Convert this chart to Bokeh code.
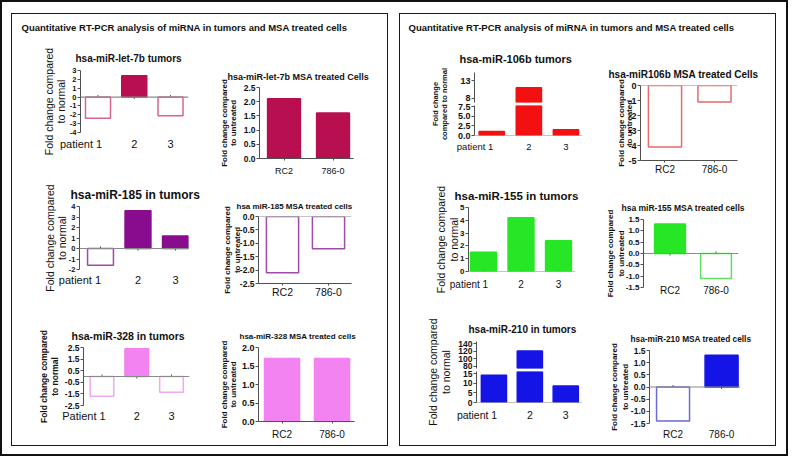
import numpy as np
from bokeh.plotting import figure
from bokeh.layouts import row, column
from bokeh.models import (Range1d, FixedTicker, Span, PrintfTickFormatter,
                          ColumnDataSource, CDSView, BooleanFilter)
from bokeh.embed import file_html
from bokeh.resources import INLINE

FONT = "Liberation Sans"
AXIS = "#505050"
ZERO = "#8a8a8a"
INK = "#111111"

# ---------------- data ----------------
panel_title = "Quantitative  RT-PCR analysis of miRNA in tumors and MSA treated cells"
tumor_cats = ["1", "2", "3"]
cell_cats = ["RC2", "786-0"]

let7b_tumor = [-2.4, 2.4, -2.1]
let7b_cells = [2.1, 1.6]
mir185_tumor = [-1.6, 3.6, 1.2]
mir185_cells = [-2.1, -1.2]
mir328_tumor = [-1.7, 2.4, -1.35]
mir328_cells = [1.7, 1.7]
mir106b_tumor = [1.05, 11.0, 1.5]
mir106b_cells = [-4.1, -1.1]
mir155_tumor = [1.5, 4.2, 2.4]
mir155_cells = [1.3, -1.1]
mir210_tumor = [14.0, 121.0, 8.5]
mir210_cells = [-1.4, 1.3]

let7b_tumor_ticks = [-4, -3, -2, -1, 0, 1, 2, 3]
let7b_cells_ticks = [0.0, 0.5, 1.0, 1.5, 2.0, 2.5]
mir185_tumor_ticks = [-2, -1, 0, 1, 2, 3, 4]
mir185_cells_ticks = [-2.5, -2.0, -1.5, -1.0, -0.5, 0.0]
mir328_tumor_ticks = [-2.5, -1.5, -0.5, 0.5, 1.5, 2.5]
mir328_cells_ticks = [0.0, 0.5, 1.0, 1.5, 2.0]
mir106b_ticks_low = [0.0, 2.5, 5.0, 7.5]
mir106b_ticks_high = [8, 13]
mir106b_cells_ticks = [-5, -4, -3, -2, -1, 0]
mir155_tumor_ticks = [0, 1, 2, 3, 4, 5]
mir155_cells_ticks = [-1.5, -1.0, -0.5, 0.0, 0.5, 1.0, 1.5]
mir210_ticks_low = [0, 5, 10, 15]
mir210_ticks_high = [80, 100, 120, 140]
mir210_cells_ticks = [-1.5, -1.0, -0.5, 0.0, 0.5, 1.0, 1.5]

C_LET7B, O_LET7B = "#B80F50", "#D8648E"
C_185, O_185 = "#890C8E", "#A04AAA"
C_328, O_328 = "#F283F0", "#F2A8F0"
C_106B, O_106B = "#F21010", "#E56A6A"
C_155, O_155 = "#26E626", "#60E060"
C_210, O_210 = "#1414E6", "#6A6AD6"

LBL_T = "Fold change compared\nto normal"
LBL_C = "Fold change compared\nto untreated"


# ---------------- helpers ----------------
def new_fig(box, frame, xr, yr, show_x=True):
    bx0, by0, bx1, by1 = box
    fx0, fy0, fx1, fy1 = frame
    p = figure(width=bx1 - bx0, height=by1 - by0,
               x_range=Range1d(*xr), y_range=Range1d(*yr),
               output_backend="svg", toolbar_location=None,
               x_axis_location="below" if show_x else None,
               min_border_left=int(round(fx0 - bx0)), min_border_right=int(round(bx1 - fx1)),
               min_border_top=int(round(fy0 - by0)), min_border_bottom=int(round(by1 - fy1)))
    p.title_location = None
    p.outline_line_color = None
    p.xgrid.visible = False
    p.ygrid.visible = False
    p.background_fill_color = "white"
    p.border_fill_color = "white"
    return p


def set_title(p, text, size, offset, standoff):
    p.title_location = "above"
    p.title.text = text
    p.title.text_font = FONT
    p.title.text_font_size = size
    p.title.text_font_style = "bold"
    p.title.text_color = INK
    p.title.align = "left"
    p.title.offset = offset
    p.title.standoff = standoff


def style_y(p, ticks, fmt, tick_size, label=None, lsize=None, lstyle=None, lh=None, lstandoff=None):
    ax = p.yaxis[0]
    ax.ticker = FixedTicker(ticks=ticks)
    ax.formatter = PrintfTickFormatter(format=fmt)
    ax.axis_line_color = AXIS
    ax.major_tick_line_color = AXIS
    ax.minor_tick_line_color = None
    ax.major_tick_out = 3
    ax.major_tick_in = 0
    ax.major_label_text_font = FONT
    ax.major_label_text_font_size = tick_size
    ax.major_label_text_font_style = "bold"
    ax.major_label_text_color = INK
    ax.major_label_standoff = 1
    if label:
        ax.axis_label = label
        ax.axis_label_text_font = FONT
        ax.axis_label_text_font_size = lsize
        ax.axis_label_text_font_style = lstyle
        ax.axis_label_text_color = INK
        ax.axis_label_text_line_height = lh
        ax.axis_label_standoff = lstandoff


def style_x(p, cats, size, standoff, line, first_pos=None, prefix=None):
    ax = p.xaxis[0]
    pos = list(range(1, len(cats) + 1))
    labels = list(cats)
    if first_pos is not None:
        pos[0] = first_pos
        labels[0] = prefix + " " + cats[0]
    ax.ticker = FixedTicker(ticks=pos)
    ax.major_label_overrides = {x: s for x, s in zip(pos, labels)}
    ax.minor_tick_line_color = None
    ax.major_label_text_font = FONT
    ax.major_label_text_font_size = size
    ax.major_label_text_font_style = "normal"
    ax.major_label_text_color = INK
    ax.major_label_standoff = standoff
    ax.major_tick_in = 0
    if line:
        ax.axis_line_color = AXIS
        ax.major_tick_line_color = AXIS
        ax.major_tick_out = 2
    else:
        ax.axis_line_color = None
        ax.major_tick_line_color = None
        ax.major_tick_out = 0


def add_bars(p, vals, color, outline, width, above=None):
    xs = list(range(1, len(vals) + 1))
    src = ColumnDataSource(dict(
        x=xs, top=vals,
        fill=[color if v > 0 else "white" for v in vals],
        line=[color if v > 0 else outline for v in vals]))
    mask = [True] * len(vals) if above is None else [v > above for v in vals]
    p.vbar(x="x", top="top", bottom=0, width=width, fill_color="fill",
           line_color="line", line_width=1.5, source=src,
           view=CDSView(filter=BooleanFilter(mask)))


def add_zero(p, n, ticks=True):
    p.add_layout(Span(location=0, dimension="width", line_color=ZERO, line_width=1.2))
    if ticks:
        xs = list(range(1, n + 1))
        p.scatter(x=xs, y=[0] * n, marker="dash", angle=np.pi / 2, size=4,
                  line_color=AXIS, line_width=1)


def title_fig(width, left, text):
    p = figure(width=width, height=22, output_backend="svg", toolbar_location=None,
               x_axis_location=None, y_axis_location=None,
               min_border_left=left, min_border_right=0, min_border_top=19, min_border_bottom=0)
    p.outline_line_color = None
    p.grid.visible = False
    set_title(p, text, "9.5px", 0, 2)
    return p


def label_fig(box, frame, text, size, style, lh, standoff):
    p = new_fig(box, frame, (0, 1), (0, 1), show_x=False)
    ax = p.yaxis[0]
    ax.ticker = FixedTicker(ticks=[])
    ax.axis_line_color = None
    ax.major_tick_line_color = None
    ax.minor_tick_line_color = None
    ax.major_tick_out = 0
    ax.major_label_standoff = 0
    ax.axis_label = text
    ax.axis_label_text_font = FONT
    ax.axis_label_text_font_size = size
    ax.axis_label_text_font_style = style
    ax.axis_label_text_color = INK
    ax.axis_label_text_line_height = lh
    ax.axis_label_standoff = standoff
    return p


def solo(p):
    return column(p)


# ---------------- left panel ----------------
TL = title_fig(374, 9, panel_title)

A1 = new_fig((16, 38, 206, 180), (84, 71.7, 192, 134), (0.517, 3.496), (-4, 3))
set_title(A1, "hsa-miR-let-7b tumors", "10px", -5, 13)
style_y(A1, let7b_tumor_ticks, "%d", "7.5px", LBL_T, "10.5px", "normal", 1.0, 0)
style_x(A1, tumor_cats, "11px", 5, False, 0.531, "patient")
add_zero(A1, 3)
add_bars(A1, let7b_tumor, C_LET7B, O_LET7B, 0.69)

B1 = new_fig((206, 38, 390, 180), (263, 89, 357, 162.5), (0.5, 2.418), (0, 2.5))
set_title(B1, "hsa-miR-let-7b  MSA treated Cells", "9px", -32, 12)
style_y(B1, let7b_cells_ticks, "%.1f", "8.5px", LBL_C, "8px", "bold", 0.95, 3)
style_x(B1, cell_cats, "9px", 5, True)
add_bars(B1, let7b_cells, C_LET7B, O_LET7B, 0.67)

A2 = new_fig((16, 180, 206, 302), (83, 208.3, 192, 271), (0.44, 3.347), (-2, 4))
set_title(A2, "hsa-miR-185  in tumors", "12px", -9, 10)
style_y(A2, mir185_tumor_ticks, "%d", "7.5px", LBL_T, "10.5px", "normal", 1.0, -2)
style_x(A2, tumor_cats, "11px", 4, False, 0.452, "patient")
add_zero(A2, 3)
add_bars(A2, mir185_tumor, C_185, O_185, 0.69)

B2 = new_fig((206, 180, 390, 302), (262, 218.3, 355, 287.7), (0.478, 2.5), (-2.5, 0))
set_title(B2, "hsa miR-185 MSA treated cells", "8px", -22, 12)
style_y(B2, mir185_cells_ticks, "%.1f", "8.5px", LBL_C, "8px", "bold", 1.1, -5)
style_x(B2, cell_cats, "10.5px", 0, True)
add_zero(B2, 2)
add_bars(B2, mir185_cells, C_185, O_185, 0.70)

A3 = new_fig((16, 302, 206, 446), (87, 349, 193, 407.3), (0.468, 3.518), (-2.5, 2.5))
set_title(A3, "hsa-miR-328 in tumors", "10.5px", -12, 12)
style_y(A3, mir328_tumor_ticks, "%.1f", "8.5px", LBL_T, "8.5px", "bold", 1.05, 2)
style_x(A3, tumor_cats, "11px", 4, False, 0.482, "Patient")
add_zero(A3, 3)
add_bars(A3, mir328_tumor, C_328, O_328, 0.68)

B3 = new_fig((206, 302, 390, 446), (262, 349.3, 358, 423.3), (0.53, 2.45), (0, 2.0))
set_title(B3, "hsa-miR-328 MSA treated cells", "8px", -19, 13)
style_y(B3, mir328_cells_ticks, "%.1f", "9px", LBL_C, "8px", "bold", 0.95, 1)
style_x(B3, cell_cats, "10px", 5, True)
add_bars(B3, mir328_cells, C_328, O_328, 0.70)

# ---------------- right panel ----------------
TR = title_fig(374, 8, panel_title)

L7 = label_fig((405, 38, 458, 180), (457, 74.3, 458, 136.7),
               "Fold change\ncompared to normal", "7.5px", "bold", 0.9, 4)
U7 = new_fig((458, 38, 598, 105), (479.3, 74.3, 587, 104.3), (0.535, 3.446), (6.8, 15.3), show_x=False)
set_title(U7, "hsa-miR-106b tumors", "11px", -15, 16)
style_y(U7, mir106b_ticks_high, "%d", "9px")
add_bars(U7, mir106b_tumor, C_106B, O_106B, 0.68, above=U7.y_range.start)
D7 = new_fig((458, 105, 598, 180), (479.3, 106.7, 587, 136.7), (0.535, 3.446), (0, 7.75))
style_y(D7, mir106b_ticks_low, "%.1f", "9px")
style_x(D7, tumor_cats, "9.5px", 5, False, 0.55, "patient")
add_zero(D7, 3)
add_bars(D7, mir106b_tumor, C_106B, O_106B, 0.68)

B7 = new_fig((598, 38, 779, 180), (645, 87.3, 742, 161.7), (0.505, 2.465), (-5, 0))
set_title(B7, "hsa-miR106b  MSA treated Cells", "10px", -32, 11)
style_y(B7, mir106b_cells_ticks, "%d", "9px", LBL_C, "8px", "bold", 0.9, -9)
style_x(B7, cell_cats, "10px", 1, True)
add_zero(B7, 2)
add_bars(B7, mir106b_cells, C_106B, O_106B, 0.67)

A8 = new_fig((405, 180, 598, 302), (473, 209, 580, 272.7), (0.6, 3.453), (0, 5))
set_title(A8, "hsa-miR-155  in tumors", "11.5px", -14, 12)
style_y(A8, mir155_tumor_ticks, "%d", "8px", LBL_T, "10.5px", "normal", 1.05, -3)
style_x(A8, tumor_cats, "10px", 7, False, 0.612, "patient")
add_zero(A8, 3)
add_bars(A8, mir155_tumor, C_155, O_155, 0.69)

B8 = new_fig((598, 180, 779, 302), (648, 221, 743, 289.3), (0.424, 2.489), (-1.5, 1.5))
set_title(B8, "hsa miR-155 MSA treated cells", "8.5px", -22, 14)
style_y(B8, mir155_cells_ticks, "%.1f", "8px", LBL_C, "8px", "bold", 1.2, -3)
style_x(B8, cell_cats, "10px", -3, False)
add_zero(B8, 2)
add_bars(B8, mir155_cells, C_155, O_155, 0.67)

L9 = label_fig((405, 302, 460, 446), (455, 342.7, 456, 404),
               LBL_T, "10.5px", "normal", 1.05, -1)
U9 = new_fig((460, 302, 598, 372), (479.3, 342.7, 587, 370), (0.515, 3.466), (74, 146), show_x=False)
set_title(U9, "hsa-miR-210 in tumors", "10px", -8, 14)
style_y(U9, mir210_ticks_high, "%d", "8.5px")
add_bars(U9, mir210_tumor, C_210, O_210, 0.70, above=U9.y_range.start)
D9 = new_fig((460, 372, 598, 446), (479.3, 373.3, 587, 404), (0.515, 3.466), (0, 15.9))
style_y(D9, mir210_ticks_low, "%d", "8.5px")
style_x(D9, tumor_cats, "10.5px", 6, False, 0.53, "patient")
add_zero(D9, 3)
add_bars(D9, mir210_tumor, C_210, O_210, 0.70)

B9 = new_fig((598, 302, 779, 446), (654, 351.7, 745, 425), (0.515, 2.39), (-1.5, 1.5))
set_title(B9, "hsa-miR-210 MSA treated cells", "8.3px", -19, 13)
style_y(B9, mir210_cells_ticks, "%.1f", "8.5px", LBL_C, "8px", "bold", 1.2, -2)
style_x(B9, cell_cats, "10px", 5, False)
add_zero(B9, 2)
add_bars(B9, mir210_cells, C_210, O_210, 0.68)

# ---------------- layout ----------------
PANEL_STYLE = {"border": "1.5px solid #1a1a1a", "box-sizing": "border-box"}
left_panel = column(solo(TL),
                    row(solo(A1), solo(B1)),
                    row(solo(A2), solo(B2)),
                    row(solo(A3), solo(B3)),
                    width=377, height=433, styles=PANEL_STYLE)
right_panel = column(solo(TR),
                     row(solo(L7), column(U7, D7), solo(B7)),
                     row(solo(A8), solo(B8)),
                     row(solo(L9), column(U9, D9), solo(B9)),
                     width=377, height=433, styles=PANEL_STYLE)
outer = column(row(left_panel, right_panel, spacing=11),
               width=788, height=456,
               styles={"border": "2px solid #111111", "padding": "11px 10px 8px 9px",
                       "box-sizing": "border-box"})

open("out.html", "w").write(file_html(outer, INLINE))
